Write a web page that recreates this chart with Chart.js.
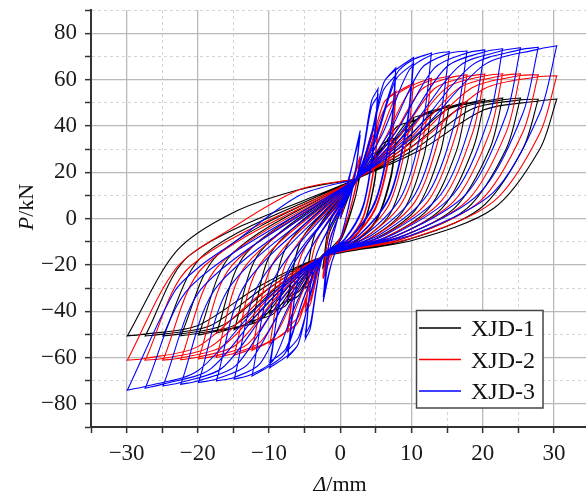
<!DOCTYPE html>
<html><head><meta charset="utf-8">
<script src="https://cdn.jsdelivr.net/npm/chart.js@4.4.1/dist/chart.umd.min.js"></script>
<style>html,body{margin:0;padding:0;background:#fff;overflow:hidden}canvas{display:block}</style>
</head><body>
<canvas id="c" width="586" height="500"></canvas>
<script>
const seriesNames = ['XJD-1', 'XJD-2', 'XJD-3'];
const seriesColors = ['#000000', '#ff0000', '#0000ff'];
const xTickLabels = [-30, -20, -10, 0, 10, 20, 30];
const yTickLabels = [-80, -60, -40, -20, 0, 20, 40, 60, 80];
const xTitle = ['\u0394', '/mm'];
const yTitle = ['P', '/kN'];

// [displacement (mm), load (kN)]
const xjd1 = [
[0,0],[1.4,11],[2.8,20],[2.8,20],[2.1,9],[0.3,-8],[-1.2,-14],[-2.4,-21],[-2.4,-21],
[-1.5,-6],[0,3],[1.5,12],[2.8,19],[2.8,19],[2.0,8],[0.2,-7.5],[-1.3,-13],[-2.4,-20],[-2.4,-20],
[-1.4,-1.2],[2.2,17],[3.3,21.4],[4.4,27.4],[5.3,29],[5.3,29],[4.7,14.5],[3.2,-2.6],[0.6,-11.7],[-2.4,-16.5],[-3.3,-21.5],[-4.2,-28.2],[-4.9,-30],[-4.9,-30],
[-3.4,-5.6],[2.0,15],[3.3,20],[4.4,26],[5.3,27.5],[5.3,27.5],[4.7,13.5],[3.2,-3.1],[0.6,-11.8],[-2.2,-15],[-3.3,-20.5],[-4.2,-27],[-4.9,-28.5],[-4.9,-28.5],
[-3.4,-5.6],[2.2,17],[4.2,23.6],[6.1,32.6],[7.8,35],[7.8,35],[7.1,18.6],[5.0,-0.8],[1.5,-11.1],[-2.4,-16.5],[-4.2,-23.7],[-5.9,-33.4],[-7.4,-36],[-7.4,-36],
[-5.3,-8.4],[2.0,15],[4.1,22.5],[6.0,31],[7.8,33],[7.8,33],[7.1,17.2],[5.0,-1.4],[1.5,-11.3],[-2.2,-15],[-4.0,-22.5],[-5.8,-31.5],[-7.4,-34],[-7.4,-34],
[-5.3,-8.4],[2.2,17],[4.2,23.6],[6.1,32.6],[7.8,34.2],[10.3,43],[10.3,43],[9.4,24.0],[6.9,1.6],[2.5,-10.3],[-2.4,-16.5],[-4.2,-23.7],[-5.9,-33.4],[-7.4,-35.2],[-9.9,-41],[-9.9,-41],
[-7.3,-10.8],[2.2,17],[5.1,26.5],[7.9,39.5],[10.3,42.2],[12.8,46.5],[12.8,46.5],[11.7,26.4],[8.7,2.7],[3.4,-9.9],[-2.4,-16.5],[-5.1,-25.5],[-7.7,-37.7],[-9.9,-40.2],[-12.4,-45],[-12.4,-45],
[-9.3,-12.8],[2.2,17],[6.0,27.8],[9.7,42.6],[12.8,45.7],[15.3,49],[15.3,49],[14.0,28.1],[10.5,3.5],[4.4,-9.6],[-2.4,-16.5],[-6.0,-27.0],[-9.4,-41.2],[-12.4,-44.2],[-14.9,-48],[-14.9,-48],
[-11.2,-14.2],[2.2,17],[6.9,28.7],[11.4,44.7],[15.3,48.2],[17.8,50.5],[17.8,50.5],[16.3,29.1],[12.3,3.9],[5.4,-9.5],[-2.4,-16.5],[-6.9,-28.1],[-11.2,-43.8],[-14.9,-47.2],[-17.4,-49.5],[-17.4,-49.5],
[-13.2,-14.9],[2.2,17],[7.8,29.3],[13.2,46.0],[17.8,49.7],[20.3,51.5],[20.3,51.5],[18.6,29.8],[14.2,4.2],[6.3,-9.4],[-2.4,-16.5],[-7.7,-28.6],[-13.0,-45.1],[-17.4,-48.7],[-19.9,-50.3],[-19.9,-50.3],
[-15.2,-15.3],[2.2,17],[8.6,29.7],[14.9,46.9],[20.3,50.7],[22.8,52],[22.8,52],[21.0,30.1],[16.0,4.4],[7.3,-9.3],[-2.4,-16.5],[-8.6,-28.9],[-14.7,-45.8],[-19.9,-49.5],[-22.4,-50.6],[-22.4,-50.6],
[-17.1,-15.4],[2.2,17],[9.5,29.8],[16.7,47.3],[22.8,51.2],[25.3,52],[25.3,52],[23.3,30.1],[17.8,4.4],[8.2,-9.3],[-2.4,-16.5],[-9.5,-29.0],[-16.5,-46.1],[-22.4,-49.8],[-24.9,-50.7],[-24.9,-50.7],
[-19.1,-15.5],[2.2,17],[10.4,29.8],[18.5,47.3],[25.3,51.2],[27.8,51.5],[27.8,51.5],[25.6,29.8],[19.6,4.2],[9.2,-9.4],[-2.4,-16.5],[-10.4,-29.1],[-18.2,-46.2],[-24.9,-49.9],[-27.4,-50.7],[-27.4,-50.7],
[-21.0,-15.5],[2.2,17],[11.3,29.7],[20.2,46.9],[27.8,50.7],[30.4,51.6],[30.4,51.6],[28.0,29.9],[21.5,4.3],[10.2,-9.4],[-2.4,-16.5],[-11.3,-29.1],[-20.0,-46.2],[-27.4,-49.9],[-29.9,-50.7],[-29.9,-50.7],
[-23.0,-14.1],[-15,2.6],[-5.7,12.5],[2.2,17]
];
const xjd2 = [
[0,0],[1.4,14],[2.8,27],[2.8,27],[2.1,13],[0.3,-7],[-1.2,-16],[-2.4,-26],[-2.4,-26],
[-1.5,-10],[0,3],[1.5,15],[2.8,25],[2.8,25],[2.0,11],[0.2,-7],[-1.3,-15],[-2.4,-24],[-2.4,-24],
[-1.4,-3.6],[2.2,17],[3.3,25.4],[4.4,36.9],[5.3,40],[5.3,40],[4.7,22.0],[3.2,0.7],[0.6,-10.6],[-2.4,-16.5],[-3.3,-25.1],[-4.2,-36.9],[-4.9,-40],[-4.9,-40],
[-3.4,-10.4],[2.0,15],[3.3,24],[4.4,35],[5.3,38],[5.3,38],[4.7,20.6],[3.2,0.1],[0.6,-10.8],[-2.2,-15],[-3.3,-24],[-4.2,-35],[-4.9,-38],[-4.9,-38],
[-3.4,-10.4],[2.2,17],[4.2,30.9],[6.1,49.9],[7.8,55],[7.8,55],[7.1,32.2],[5.0,5.3],[1.5,-9.0],[-2.4,-16.5],[-4.2,-28.4],[-5.9,-44.7],[-7.4,-49],[-7.4,-49],
[-5.3,-14.7],[2.0,15],[4.1,29],[6.0,46],[7.8,52],[7.8,52],[7.1,30],[5.0,4.4],[1.5,-9.3],[-2.2,-15],[-4.0,-27],[-5.8,-42],[-7.4,-47],[-7.4,-47],
[-5.3,-14.7],[2.2,17],[4.2,30.9],[6.1,49.9],[7.8,54.2],[10.3,58.5],[10.3,58.5],[9.4,34.6],[6.9,6.4],[2.5,-8.6],[-2.4,-16.5],[-4.2,-28.4],[-5.9,-44.7],[-7.4,-48.2],[-9.9,-54],[-9.9,-54],
[-7.3,-17.1],[2.2,17],[5.1,32.2],[7.9,53.0],[10.3,57.7],[12.8,60.5],[12.8,60.5],[11.7,35.9],[8.7,7.0],[3.4,-8.4],[-2.4,-16.5],[-5.1,-30.3],[-7.7,-49.0],[-9.9,-53.2],[-12.4,-57],[-12.4,-57],
[-9.3,-18.5],[2.2,17],[6.0,33.0],[9.7,54.7],[12.8,59.7],[15.3,61.5],[15.3,61.5],[14.0,36.6],[10.5,7.3],[4.4,-8.3],[-2.4,-16.5],[-6.0,-31.4],[-9.4,-51.6],[-12.4,-56.2],[-14.9,-59],[-14.9,-59],
[-11.2,-19.5],[2.2,17],[6.9,33.3],[11.4,55.6],[15.3,60.7],[17.8,62],[17.8,62],[16.3,37.0],[12.3,7.4],[5.4,-8.3],[-2.4,-16.5],[-6.9,-32.1],[-11.2,-53.3],[-14.9,-58.2],[-17.4,-60],[-17.4,-60],
[-13.2,-20.0],[2.2,17],[7.8,33.5],[13.2,56.0],[17.8,61.2],[20.3,62.4],[20.3,62.4],[18.6,37.2],[14.2,7.6],[6.3,-8.2],[-2.4,-16.5],[-7.7,-32.5],[-13.0,-54.2],[-17.4,-59.2],[-19.9,-60.6],[-19.9,-60.6],
[-15.2,-20.2],[2.2,17],[8.6,33.7],[14.9,56.4],[20.3,61.6],[22.8,62.5],[22.8,62.5],[21.0,37.3],[16.0,7.6],[7.3,-8.2],[-2.4,-16.5],[-8.6,-32.7],[-14.7,-54.7],[-19.9,-59.8],[-22.4,-61],[-22.4,-61],
[-17.1,-20.4],[2.2,17],[9.5,33.7],[16.7,56.4],[22.8,61.7],[25.3,62.5],[25.3,62.5],[23.3,37.3],[17.8,7.6],[8.2,-8.2],[-2.4,-16.5],[-9.5,-32.8],[-16.5,-55.1],[-22.4,-60.2],[-24.9,-61.2],[-24.9,-61.2],
[-19.1,-20.5],[2.2,17],[10.4,33.7],[18.5,56.4],[25.3,61.7],[27.8,62],[27.8,62],[25.6,37.0],[19.6,7.4],[9.2,-8.3],[-2.4,-16.5],[-10.4,-32.9],[-18.2,-55.3],[-24.9,-60.4],[-27.4,-61.2],[-27.4,-61.2],
[-21.0,-20.5],[2.2,17],[11.3,33.5],[20.2,56.0],[27.8,61.2],[30.4,61.6],[30.4,61.6],[28.0,36.7],[21.5,7.3],[10.2,-8.3],[-2.4,-16.5],[-11.3,-32.9],[-20.0,-55.3],[-27.4,-60.4],[-29.9,-61.2],[-29.9,-61.2],
[-23.0,-21.3],[-15.5,-4.7],[-5.7,12.5],[2.2,17]
];
const xjd3 = [
[0,0],[1.4,19],[2.8,38],[2.8,38],[2.1,20],[0.3,-6],[-1.2,-19],[-2.4,-36],[-2.4,-36],
[-1.5,-14],[0,4],[1.5,21],[2.8,36],[2.8,36],[2.0,17],[0.2,-7],[-1.3,-20],[-2.4,-34],[-2.4,-34],
[-1.4,-8.4],[2.2,17],[3.3,31.3],[4.4,50.8],[5.3,56],[5.3,56],[4.7,32.9],[3.2,5.6],[0.6,-8.9],[-2.4,-16.5],[-3.3,-29.5],[-4.2,-47.3],[-4.9,-52],[-4.9,-52],
[-3.4,-16.1],[2.0,15],[3.3,30.2],[4.4,48.3],[5.3,53],[5.3,53],[4.7,30.8],[3.2,4.7],[0.6,-9.2],[-2.2,-15],[-3.3,-28.8],[-4.2,-45.5],[-4.9,-50],[-4.9,-50],
[-3.4,-16.1],[2.2,17],[4.2,34.6],[6.1,58.6],[7.8,65],[7.8,65],[7.1,39.0],[5.0,8.4],[1.5,-7.9],[-2.4,-16.5],[-4.2,-32.5],[-5.9,-54.2],[-7.4,-60],[-7.4,-60],
[-5.3,-20.0],[2.0,15],[4.1,32],[6.0,55],[7.8,62],[7.8,62],[7.1,37],[5.0,7.5],[1.5,-8.3],[-2.2,-15],[-4.0,-31],[-5.8,-51],[-7.4,-57],[-7.4,-57],
[-5.3,-20.0],[2.2,17],[4.2,34.6],[6.1,58.6],[7.8,64.2],[10.3,69.5],[10.3,69.5],[9.4,42.1],[6.9,9.7],[2.5,-7.5],[-2.4,-16.5],[-4.2,-32.5],[-5.9,-54.2],[-7.4,-59.2],[-9.9,-64.4],[-9.9,-64.4],
[-7.3,-22],[2.0,15],[5.0,34],[7.8,60],[10.3,67],[10.3,67],[9.4,40.4],[6.9,9],[2.5,-7.7],[-2.2,-15],[-5.0,-33],[-7.6,-56],[-9.9,-62],[-9.9,-62],
[-7.3,-24.0],[2.2,17],[5.1,36.3],[7.9,62.5],[10.3,68.7],[12.8,71.4],[12.8,71.4],[11.7,43.4],[8.7,10.3],[3.4,-7.3],[-2.4,-16.5],[-5.1,-34.1],[-7.7,-58.0],[-9.9,-63.6],[-12.4,-68],[-12.4,-68],
[-9.3,-26.0],[2.2,17],[6.0,37.0],[9.7,64.2],[12.8,70.6],[15.3,72.1],[15.3,72.1],[14.0,43.8],[10.5,10.5],[4.4,-7.2],[-2.4,-16.5],[-6.0,-35.4],[-9.4,-61.2],[-12.4,-67.2],[-14.9,-69.4],[-14.9,-69.4],
[-11.2,-27.0],[2.2,17],[6.9,37.2],[11.4,64.8],[15.3,71.3],[17.8,72.3],[17.8,72.3],[16.3,44.0],[12.3,10.6],[5.4,-7.2],[-2.4,-16.5],[-6.9,-35.9],[-11.2,-62.4],[-14.9,-68.6],[-17.4,-70.1],[-17.4,-70.1],
[-13.2,-27.8],[2.2,17],[7.8,37.3],[13.2,64.9],[17.8,71.5],[20.3,72.8],[20.3,72.8],[18.6,44.3],[14.2,10.7],[6.3,-7.1],[-2.4,-16.5],[-7.7,-36.2],[-13.0,-63.0],[-17.4,-69.3],[-19.9,-70.8],[-19.9,-70.8],
[-15.2,-28.1],[2.2,17],[8.6,37.5],[14.9,65.4],[20.3,72.0],[22.8,73.3],[22.8,73.3],[21.0,44.7],[16.0,10.9],[7.3,-7.1],[-2.4,-16.5],[-8.6,-36.4],[-14.7,-63.6],[-19.9,-70.0],[-22.4,-71.6],[-22.4,-71.6],
[-17.1,-28.5],[2.2,17],[9.5,37.7],[16.7,65.8],[22.8,72.5],[25.3,73.7],[25.3,73.7],[23.3,44.9],[17.8,11.0],[8.2,-7.0],[-2.4,-16.5],[-9.5,-36.7],[-16.5,-64.3],[-22.4,-70.8],[-24.9,-72.3],[-24.9,-72.3],
[-19.1,-28.9],[2.2,17],[10.4,37.8],[18.5,66.2],[25.3,72.9],[27.8,73.9],[27.8,73.9],[25.6,45.1],[19.6,11.1],[9.2,-7.0],[-2.4,-16.5],[-10.4,-37.0],[-18.2,-64.9],[-24.9,-71.5],[-27.4,-73.3],[-27.4,-73.3],
[-21.0,-29.3],[2.2,17],[11.3,37.9],[20.2,66.3],[27.8,73.1],[30.4,74.6],[30.4,74.6],[28.0,45.5],[21.5,11.3],[10.2,-6.9],[-2.4,-16.5],[-11.3,-37.3],[-20.0,-65.7],[-27.4,-72.5],[-29.9,-74.1],[-29.9,-74.1],
[-23.3,-31.6],[-19.7,-20.6],[-15,-10.5],[-5.7,10],[2.2,17]
];

const seriesData = [xjd1, xjd2, xjd3];
const FONT = "'Liberation Serif', 'Times New Roman', serif";
const fmt = v => (v < 0 ? '\u2212' + Math.abs(v) : String(v));

// target plot frame (px)
const AREA = { left: 91, top: 10, right: 586, bottom: 427 };

const datasets = seriesData.map((arr, i) => ({
  label: seriesNames[i],
  data: arr.map(p => ({ x: p[0], y: p[1] })),
  showLine: true,
  borderColor: seriesColors[i],
  backgroundColor: seriesColors[i],
  borderWidth: 1.1,
  pointRadius: 0,
  pointHoverRadius: 0,
  tension: 0.3,
  fill: false,
  order: 3 - i
}));

const xMajor = v => Math.abs(v % 10) < 1e-9;
const xMinor = v => Math.abs(v % 5) < 1e-9;
const yMajor = v => Math.abs(v % 20) < 1e-9;
const yMinor = v => Math.abs(v % 10) < 1e-9;

const overlay = {
  id: 'overlay',
  afterDraw(chart) {
    const ctx = chart.ctx;
    ctx.save();
    ctx.fillStyle = '#111';
    ctx.textBaseline = 'alphabetic';
    ctx.font = 'italic 22px ' + FONT;
    const w1 = ctx.measureText(xTitle[0]).width;
    ctx.font = '22px ' + FONT;
    const w2 = ctx.measureText(xTitle[1]).width;
    const x0 = 340 - (w1 + w2) / 2;
    ctx.font = 'italic 22px ' + FONT;
    ctx.fillText(xTitle[0], x0, 491);
    ctx.font = '22px ' + FONT;
    ctx.fillText(xTitle[1], x0 + w1, 491);
    ctx.translate(33, 207);
    ctx.rotate(-Math.PI / 2);
    ctx.font = 'italic 22px ' + FONT;
    const v1 = ctx.measureText(yTitle[0]).width;
    ctx.font = '22px ' + FONT;
    const v2 = ctx.measureText(yTitle[1]).width;
    const y0 = -(v1 + v2) / 2;
    ctx.font = 'italic 22px ' + FONT;
    ctx.fillText(yTitle[0], y0, 0);
    ctx.font = '22px ' + FONT;
    ctx.fillText(yTitle[1], y0 + v1, 0);
    ctx.restore();

    ctx.save();
    ctx.fillStyle = '#ffffff';
    ctx.fillRect(416, 310, 127, 98);
    ctx.strokeStyle = '#444';
    ctx.lineWidth = 1.5;
    ctx.strokeRect(416.5, 310.5, 126.5, 97.5);
    const rows = [328, 359.5, 391];
    ctx.font = '24px ' + FONT;
    ctx.textBaseline = 'alphabetic';
    for (let i = 0; i < 3; i++) {
      ctx.strokeStyle = seriesColors[i];
      ctx.lineWidth = 1.5;
      ctx.beginPath();
      ctx.moveTo(419, rows[i]);
      ctx.lineTo(461, rows[i]);
      ctx.stroke();
      ctx.fillStyle = '#111';
      ctx.fillText(seriesNames[i], 471, rows[i] + 8);
    }
    ctx.restore();
  }
};

const chart = new Chart(document.getElementById('c'), {
  type: 'scatter',
  data: { datasets },
  plugins: [overlay],
  options: {
    responsive: false,
    devicePixelRatio: 1,
    animation: false,
    layout: { autoPadding: false, padding: { top: 10, right: 0, left: 0, bottom: 0 } },
    plugins: { legend: { display: false }, tooltip: { enabled: false } },
    scales: {
      x: {
        type: 'linear', position: 'bottom', min: -35, max: 34.5,
        afterFit: s => { s.height = 73; s.paddingLeft = 0; s.paddingRight = 0; },
        ticks: {
          stepSize: 5, autoSkip: false, maxRotation: 0, padding: 7, includeBounds: false,
          color: '#1a1a1a', font: { family: FONT, size: 23 },
          callback: v => (xTickLabels.includes(v) ? fmt(v) : '')
        },
        grid: {
          color: c => (c.tick && xMajor(c.tick.value) ? '#b9b9b9' : (c.tick && xMinor(c.tick.value) ? '#d4d4d4' : 'rgba(0,0,0,0)')),
          lineWidth: c => (c.tick && xMajor(c.tick.value) ? 1.3 : 1),
          tickColor: c => (c.tick && xMinor(c.tick.value) ? '#333' : 'rgba(0,0,0,0)'),
          tickLength: 6, tickWidth: 1.5, drawTicks: true
        },
        border: {
          display: true, color: '#333', width: 2,
          dash: c => (c.type === 'tick' && c.tick && !xMajor(c.tick.value) ? [3, 3] : [])
        }
      },
      y: {
        type: 'linear', position: 'left', min: -90, max: 90,
        afterFit: s => { s.width = 91; s.paddingTop = 0; s.paddingBottom = 0; },
        ticks: {
          stepSize: 10, autoSkip: false, padding: 8,
          color: '#1a1a1a', font: { family: FONT, size: 23 },
          callback: v => (yTickLabels.includes(v) ? fmt(v) : '')
        },
        grid: {
          color: c => (c.tick && yMajor(c.tick.value) ? '#b9b9b9' : (c.tick && yMinor(c.tick.value) ? '#d4d4d4' : 'rgba(0,0,0,0)')),
          lineWidth: c => (c.tick && yMajor(c.tick.value) ? 1.3 : 1),
          tickColor: '#333',
          tickLength: 6, tickWidth: 1.5, drawTicks: true
        },
        border: {
          display: true, color: '#333', width: 2,
          dash: c => (c.type === 'tick' && c.tick && !yMajor(c.tick.value) ? [3, 3] : [])
        }
      }
    }
  }
});

// nudge layout padding so the plot frame lands on the reference frame
for (let k = 0; k < 3; k++) {
  const ca = chart.chartArea;
  const p = chart.options.layout.padding;
  const dt = AREA.top - ca.top, dr = ca.right - AREA.right;
  const dl = AREA.left - ca.left, db = ca.bottom - AREA.bottom;
  if (Math.abs(dt) < 0.3 && Math.abs(dr) < 0.3 && Math.abs(dl) < 0.3 && Math.abs(db) < 0.3) break;
  chart.options.layout.padding = {
    top: p.top + dt, right: p.right + dr, left: p.left + dl, bottom: p.bottom + db
  };
  chart.update('none');
}
</script>
</body></html>
